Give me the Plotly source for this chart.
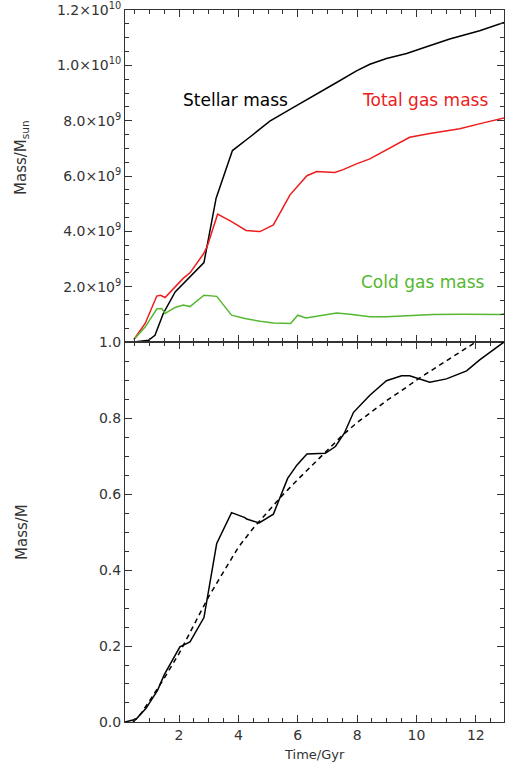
import plotly.graph_objects as go
from plotly.subplots import make_subplots

# top panel: masses in units of 1e9 Msun
stellar_time = [0.48, 0.97, 1.19, 1.47, 1.87, 2.37, 2.84, 3.25, 3.8, 4.39, 5.06, 5.74, 6.64,
                7.31, 7.98, 8.43, 8.99, 9.67, 10.34, 11.12, 12.13, 12.81, 12.95]
stellar_mass = [0.0, 0.06, 0.24, 1.03, 1.81, 2.36, 2.87, 5.2, 6.92, 7.41, 7.98, 8.41, 8.95,
                9.38, 9.8, 10.04, 10.25, 10.43, 10.67, 10.95, 11.25, 11.49, 11.55]

gas_time = [0.48, 0.86, 1.25, 1.38, 1.53, 1.81, 2.14, 2.37, 2.82, 2.95, 3.3, 3.77, 4.26, 4.73,
            5.18, 5.74, 6.31, 6.64, 7.25, 7.53, 7.98, 8.43, 9.1, 9.77, 10.45, 11.46, 12.25, 12.98]
gas_mass = [0.09, 0.67, 1.66, 1.69, 1.61, 1.94, 2.3, 2.5, 3.18, 3.45, 4.62, 4.35, 4.03, 3.99,
            4.23, 5.32, 6.01, 6.16, 6.13, 6.23, 6.44, 6.62, 7.02, 7.4, 7.54, 7.71, 7.92, 8.1]

cold_time = [0.48, 0.86, 1.25, 1.42, 1.53, 1.87, 2.14, 2.37, 2.84, 3.27, 3.77, 4.22, 4.73, 5.18,
             5.76, 6.0, 6.28, 6.75, 7.31, 7.76, 8.43, 8.99, 9.77, 10.56, 11.57, 12.81, 12.98]
cold_mass = [0.09, 0.54, 1.19, 1.21, 1.03, 1.25, 1.34, 1.28, 1.69, 1.65, 0.97, 0.85, 0.75, 0.69,
             0.67, 0.97, 0.87, 0.96, 1.05, 1.0, 0.91, 0.91, 0.96, 0.99, 1.0, 0.99, 1.03]

# bottom panel: normalised mass
norm_time = [0.18, 0.55, 0.89, 1.28, 1.5, 2.03, 2.37, 2.84, 3.27, 3.77, 4.22, 4.28, 4.7, 5.18,
             5.66, 5.97, 6.31, 6.93, 7.27, 7.57, 7.88, 8.43, 8.99, 9.5, 9.77, 10.45, 11.01,
             11.69, 12.13, 12.95]
norm_mass = [0.0, 0.007, 0.036, 0.084, 0.124, 0.198, 0.211, 0.275, 0.47, 0.551, 0.538, 0.534,
             0.524, 0.547, 0.641, 0.676, 0.705, 0.707, 0.725, 0.76, 0.815, 0.86, 0.898, 0.911,
             0.911, 0.894, 0.903, 0.924, 0.953, 1.0]

model_time = [0.45, 0.7, 1.0, 1.5, 2.0, 2.5, 3.0, 3.5, 4.0, 4.5, 5.0, 5.5, 6.0, 6.5, 7.0, 7.5,
              8.0, 8.5, 9.0, 9.5, 10.0, 10.5, 11.0, 11.5, 12.0, 12.5]
model_mass = [0.0, 0.02, 0.055, 0.115, 0.18, 0.255, 0.33, 0.395, 0.46, 0.51, 0.555, 0.598,
              0.638, 0.677, 0.716, 0.754, 0.788, 0.818, 0.846, 0.872, 0.9, 0.925, 0.95, 0.975,
              1.0, 1.025]

top_ticks = [2, 4, 6, 8, 10, 12]
top_labels = ["2.0×10<sup>9</sup>", "4.0×10<sup>9</sup>", "6.0×10<sup>9</sup>",
              "8.0×10<sup>9</sup>", "1.0×10<sup>10</sup>", "1.2×10<sup>10</sup>"]
bottom_ticks = [0.0, 0.2, 0.4, 0.6, 0.8, 1.0]
bottom_labels = ["0.0", "0.2", "0.4", "0.6", "0.8", "1.0"]

FONT = "DejaVu Sans, sans-serif"
AXIS = "#333333"
TEXT = "#333333"

fig = make_subplots(rows=2, cols=1, shared_xaxes=True, vertical_spacing=0)

fig.add_trace(go.Scatter(x=stellar_time, y=stellar_mass, mode="lines",
                         line=dict(color="black", width=1.5)), row=1, col=1)
fig.add_trace(go.Scatter(x=gas_time, y=gas_mass, mode="lines",
                         line=dict(color="#ee1c1c", width=1.5)), row=1, col=1)
fig.add_trace(go.Scatter(x=cold_time, y=cold_mass, mode="lines",
                         line=dict(color="#55b830", width=1.5)), row=1, col=1)
fig.add_trace(go.Scatter(x=norm_time, y=norm_mass, mode="lines",
                         line=dict(color="black", width=1.5)), row=2, col=1)
fig.add_trace(go.Scatter(x=model_time, y=model_mass, mode="lines",
                         line=dict(color="black", width=1.5, dash="5px,4px")), row=2, col=1)

split = 0.5337
axis_common = dict(
    showline=True, linecolor=AXIS, mirror="ticks",
    ticks="inside", ticklen=7, tickcolor=AXIS, tickwidth=1,
    automargin=False, ticklabeloverflow="allow",
    tickfont=dict(family=FONT, size=14, color=TEXT),
)

fig.update_xaxes(**axis_common, range=[0.18, 12.95], dtick=2,
                 minor=dict(ticks="inside", ticklen=4, tickcolor=AXIS, dtick=0.5))
fig.update_xaxes(showticklabels=False, row=1, col=1)

fig.update_yaxes(**axis_common)
fig.update_yaxes(range=[0, 12], tickvals=top_ticks, ticktext=top_labels,
                 minor=dict(ticks="inside", ticklen=4, tickcolor=AXIS, dtick=0.5),
                 domain=[split, 1], row=1, col=1)
fig.update_yaxes(range=[0, 1.0], tickvals=bottom_ticks, ticktext=bottom_labels,
                 minor=dict(ticks="inside", ticklen=4, tickcolor=AXIS, dtick=0.05),
                 domain=[0, split], row=2, col=1)

W, H = 505, 764
L, R, T, B = 125, 1, 10, 42


def px_to_paper(px, py):
    return (px - L) / (W - L - R), (H - B - py) / (H - T - B)


# axis titles placed by pixel position
for text, (px, py), angle, size in [("Mass/M<sub>sun</sub>", (22, 158), -90, 15),
                                    ("Mass/M", (22, 532), -90, 15),
                                    ("Time/Gyr", (314, 754), 0, 13)]:
    x0, y0 = px_to_paper(px, py)
    fig.add_annotation(x=x0, y=y0, xref="paper", yref="paper", text=text,
                       xanchor="center", yanchor="middle", showarrow=False,
                       textangle=angle, font=dict(family=FONT, size=size, color=TEXT))

label_font = dict(family=FONT, size=17)
fig.add_annotation(x=3.89, y=8.73, xref="x", yref="y", text="Stellar mass", showarrow=False,
                   font=dict(**label_font, color="black"))
fig.add_annotation(x=10.28, y=8.73, xref="x", yref="y", text="Total gas mass", showarrow=False,
                   font=dict(**label_font, color="#ee1c1c"))
fig.add_annotation(x=10.2, y=2.17, xref="x", yref="y", text="Cold gas mass", showarrow=False,
                   font=dict(**label_font, color="#55b830"))

fig.update_layout(
    template="simple_white",
    width=W, height=H,
    margin=dict(l=L, r=R, t=T, b=B),
    showlegend=False,
    font=dict(family=FONT),
)

# drop the default page margin so the figure fills the window
fig.write_html("out.html", config={"displayModeBar": False},
               post_script="document.body.style.margin='0';")
